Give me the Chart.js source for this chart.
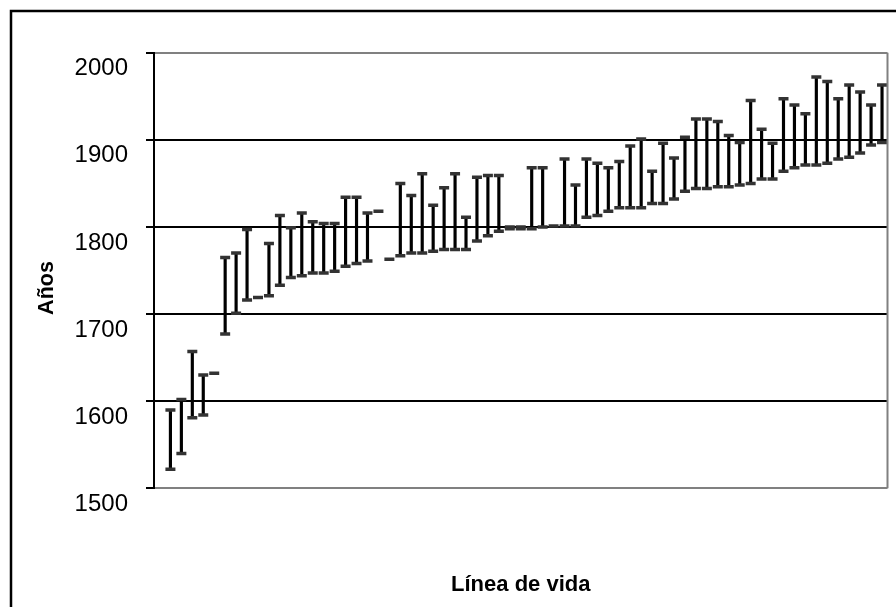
<!DOCTYPE html>
<html>
<head>
<meta charset="utf-8">
<script src="https://cdn.jsdelivr.net/npm/chart.js@4.4.1/dist/chart.umd.min.js"></script>
<style>
  html, body { margin: 0; padding: 0; background: #fff; }
  #wrap { position: relative; width: 896px; height: 607px; }
</style>
</head>
<body>
<div id="wrap"><canvas id="c"></canvas></div>
<script>
const categories = ['', '1', '2', '3', '4', '5', '6', '7', '8', '9', '10', '11', '12', '13', '14', '15', '16', '17', '18', '19', '20',
  '21', '22', '23', '24', '25', '26', '27', '28', '29', '30', '31', '32', '33', '34', '35', '36', '37', '38', '39', '40',
  '41', '42', '43', '44', '45', '46', '47', '48', '49', '50', '51', '52', '53', '54', '55', '56', '57', '58', '59', '60',
  '61', '62', '63', '64', '65', '66'];

const births = [null, 1522, 1540, 1581, 1584, 1632, 1677, 1701, 1716, 1719, 1721, 1733, 1742, 1744, 1747, 1747, 1749,
  1755, 1758, 1761, 1818, 1763, 1767, 1770, 1770, 1772, 1774, 1774, 1774, 1784, 1790, 1795, 1798, 1798, 1798, 1800,
  1801, 1801, 1801, 1811, 1813, 1818, 1822, 1822, 1822, 1827, 1827, 1832, 1841, 1844, 1844, 1846, 1846, 1848, 1850,
  1855, 1855, 1864, 1868, 1871, 1871, 1873, 1878, 1880, 1885, 1894, 1897];

const deaths = [null, 1590, 1602, 1657, 1630, null, 1765, 1770, 1797, null, 1781, 1813, 1799, 1816, 1806, 1804, 1804,
  1834, 1834, 1816, null, null, 1850, 1836, 1861, 1825, 1845, 1861, 1811, 1857, 1859, 1859, 1800, 1800, 1868, 1868,
  null, 1878, 1848, 1878, 1873, 1868, 1875, 1893, 1901, 1864, 1896, 1879, 1903, 1924, 1924, 1921, 1905, 1897, 1945,
  1912, 1896, 1947, 1940, 1930, 1972, 1967, 1947, 1963, 1955, 1940, 1963];

const yTicks = [1500, 1600, 1700, 1800, 1900, 2000];
const xTitle = 'Línea de vida';
const yTitle = 'Años';

const spans = births.map((b, i) => (b != null && deaths[i] != null) ? [b, deaths[i]] : null);

const framePlugin = {
  id: 'frame',
  beforeDraw(chart) {
    const ctx = chart.ctx;
    ctx.save();
    ctx.fillStyle = '#fff';
    ctx.fillRect(0, 0, chart.width, chart.height);
    ctx.restore();
  },
  afterDraw(chart) {
    const ctx = chart.ctx;
    const a = chart.chartArea;
    ctx.save();
    // plot area right border (gray)
    ctx.strokeStyle = '#808080';
    ctx.lineWidth = 2;
    ctx.beginPath();
    ctx.moveTo(a.right, a.top);
    ctx.lineTo(a.right, a.bottom);
    ctx.stroke();
    // outer chart frame
    ctx.strokeStyle = '#000';
    ctx.lineWidth = 2.5;
    ctx.beginPath();
    ctx.moveTo(11, chart.height + 5);
    ctx.lineTo(11, 11);
    ctx.lineTo(chart.width + 5, 11);
    ctx.stroke();
    // y axis title
    ctx.translate(47, 288);
    ctx.rotate(-Math.PI / 2);
    ctx.fillStyle = '#000';
    ctx.font = 'bold 21.5px "Liberation Sans", Arial, sans-serif';
    ctx.textAlign = 'center';
    ctx.textBaseline = 'middle';
    ctx.fillText(yTitle, 0, 0);
    ctx.restore();
  }
};

new Chart(document.getElementById('c'), {
  type: 'bar',
  data: {
    labels: categories,
    datasets: [
      {
        type: 'bar',
        label: 'Vida',
        data: spans,
        backgroundColor: '#000',
        borderWidth: 0,
        barThickness: 2.5,
        order: 3
      },
      {
        type: 'line',
        label: 'Nacimiento',
        data: births,
        showLine: false,
        pointStyle: 'line',
        pointRadius: 5,
        pointHoverRadius: 5,
        pointBorderWidth: 3.5,
        pointBorderColor: '#333',
        borderColor: '#333',
        order: 1
      },
      {
        type: 'line',
        label: 'Muerte',
        data: deaths,
        showLine: false,
        pointStyle: 'line',
        pointRadius: 5,
        pointHoverRadius: 5,
        pointBorderWidth: 3.5,
        pointBorderColor: '#333',
        borderColor: '#333',
        order: 1
      }
    ]
  },
  options: {
    responsive: true,
    maintainAspectRatio: false,
    animation: false,
    devicePixelRatio: 1,
    layout: { padding: { left: 0, top: 52.7, right: 6, bottom: 0 } },
    plugins: { legend: { display: false }, tooltip: { enabled: false } },
    scales: {
      x: {
        type: 'category',
        offset: true,
        grid: { display: false },
        border: { display: false },
        ticks: { display: false },
        title: {
          display: true,
          text: xTitle,
          color: '#000',
          font: { family: '"Liberation Sans", Arial, sans-serif', size: 22, weight: 'bold' },
          padding: { top: 0, bottom: 9 }
        },
        afterFit(scale) { scale.height = 118.7; }
      },
      y: {
        min: yTicks[0],
        max: yTicks[yTicks.length - 1],
        afterBuildTicks(scale) { scale.ticks = yTicks.map(v => ({ value: v })); },
        grid: {
          color: (ctx) => (ctx.tick && (ctx.tick.value === 1500 || ctx.tick.value === 2000)) ? '#808080' : '#000',
          lineWidth: 2,
          tickColor: '#000',
          tickLength: 8,
          drawTicks: true
        },
        border: { display: true, color: '#000', width: 2 },
        ticks: {
          color: '#000',
          font: { family: '"Liberation Sans", Arial, sans-serif', size: 24 },
          padding: 18,
          labelOffset: 16,
          callback: (v) => String(v)
        },
        afterFit(scale) { scale.width = 154; }
      }
    }
  },
  plugins: [framePlugin]
});
</script>
</body>
</html>
